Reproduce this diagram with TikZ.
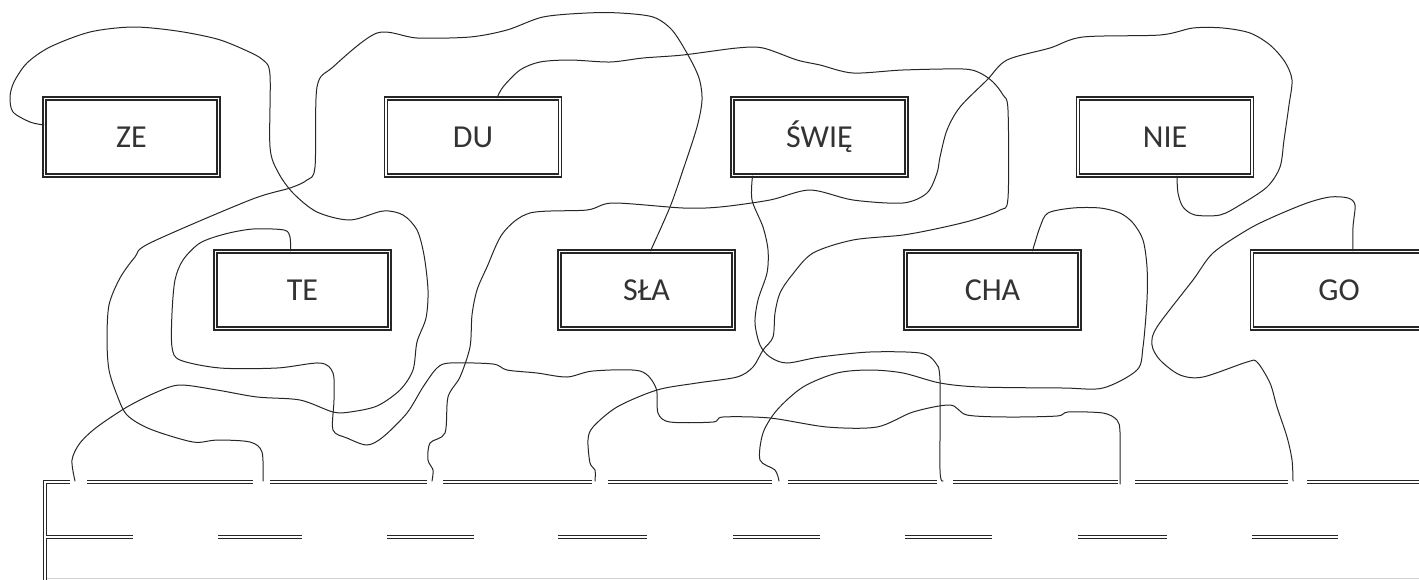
\documentclass[tikz,border=0pt]{standalone}
\usepackage{fontspec}
\setmainfont{Carlito}
\usepackage{tikz}
\newcommand{\figurescale}{1pt}

\begin{document}
\begin{tikzpicture}[x=\figurescale,y=-\figurescale,
	syllable/.style={draw=black!85, double, double distance=1.8pt, line width=1.2pt,
		minimum width=174pt, minimum height=77pt, inner sep=0pt,
		text=black!80, font=\fontsize{32}{36}\selectfont},
	wire/.style={black!85, line width=1pt, line join=round, line cap=round},
	road/.style={draw=black!85, double, double distance=1.4pt, line width=1.1pt}]
	\useasboundingbox (0,0) rectangle (1419,579);
	\clip (0,0) rectangle (1419,579);

	\node[syllable] (ZE) at (131.5,137) {ZE};
	\node[syllable] (DU) at (473,137) {DU};
	\node[syllable] (SWIE) at (819.5,137) {ŚWIĘ};
	\node[syllable] (NIE) at (1165,137) {NIE};
	\node[syllable] (TE) at (302.5,290) {TE};
	\node[syllable] (SLA) at (646.5,290) {SŁA};
	\node[syllable] (CHA) at (992.5,290) {CHA};
	\node[syllable] (GO) at (1339,290) {GO};

	\coordinate (g1) at (75,481);
	\coordinate (g2) at (263,481);
	\coordinate (g3) at (432,481);
	\coordinate (g4) at (595,481);
	\coordinate (g5) at (779,481);
	\coordinate (g6) at (943,481);
	\coordinate (g7) at (1120,484);
	\coordinate (g8) at (1293,481);

	% road
	\draw[road] (45,585) -- (45,482) -- (70,482);
	\foreach \a/\b in {87/253, 270/427, 443/592, 608/772, 788/937, 953/1118, 1135/1288, 1307/1425}
		\draw[road] (\a,482) -- (\b,482);
	\foreach \a/\b in {46/133, 218/302, 387/474, 558/647, 733/820, 905/992, 1078/1167, 1252/1338}
		\draw[road] (\a,537) -- (\b,537);
	\draw[gray!35, line width=1pt] (47,578) -- (1419,578);

	% wires
	\draw[wire] plot[smooth, tension=0.5] coordinates {([yshift=12pt]ZE.west) (30,122) (13,112) (10,97) (14,82) (27,63) (50,47) (90,32) (133,27) (177,31) (217,39) (245,50) (263,60) (270,75) (270,147) (278,172) (293,193) (317,212) (350,220) (383,211) (403,215) (417,230) (424,255) (428,290) (426,318) (417,342) (413,370) (400,390) (377,406) (350,412) (333,412) (300,400) (257,397) (217,390) (180,385) (157,392) (127,407) (97,427) (80,443) (72,460) (g1)};
	\draw[wire] plot[smooth, tension=0.5] coordinates {([xshift=-12pt]TE.north) (290,237) (284,230) (253,229) (225,234) (200,243) (183,260) (175,280) (172,313) (172,347) (180,360) (220,368) (277,368) (320,363) (333,373) (334,400) (333,430) (347,438) (367,445) (383,437) (407,413) (423,387) (437,368) (450,363) (493,364) (507,370) (537,373) (567,377) (593,371) (640,371) (656,388) (658,413) (670,422) (713,422) (723,417) (770,418) (827,427) (877,427) (913,412) (950,405) (967,415) (1007,417) (1057,416) (1068,412) (1103,413) (1117,420) (1120,432) (1120,470) (g7)};
	\draw[wire] plot[smooth, tension=0.5] coordinates {([xshift=24pt]DU.north) (503,87) (520,70) (540,62) (570,60) (610,62) (643,58) (683,55) (737,48) (763,48) (797,60) (820,65) (853,73) (903,70) (963,69) (980,73) (993,82) (1003,95) (1008,110) (1008,198) (1000,210) (973,220) (940,228) (903,235) (853,240) (813,253) (792,275) (780,293) (775,313) (773,337) (763,350) (753,367) (737,377) (697,383) (657,390) (617,407) (593,427) (588,440) (590,463) (595,470) (g4)};
	\draw[wire] plot[smooth, tension=0.5] coordinates {([xshift=4pt]SLA.north) (670,207) (683,170) (697,127) (702,100) (699,78) (688,55) (672,30) (653,17) (620,13) (587,13) (543,17) (507,30) (470,37) (417,38) (377,33) (333,67) (317,87) (315,167) (307,180) (290,188) (250,200) (150,243) (135,257) (120,278) (109,305) (107,340) (109,370) (117,395) (127,415) (150,429) (193,442) (217,440) (250,442) (262,452) (g2)};
	\draw[wire] plot[smooth, tension=0.5] coordinates {([xshift=-67pt]SWIE.south) (752,200) (763,227) (768,250) (767,273) (758,300) (755,323) (760,345) (770,357) (787,363) (820,357) (870,352) (920,353) (935,362) (940,380) (940,470) (g6)};
	\draw[wire] plot[smooth, tension=0.5] coordinates {([xshift=12pt]NIE.south) (1178,193) (1183,207) (1195,215) (1220,215) (1240,205) (1267,187) (1280,167) (1284,140) (1289,105) (1292,80) (1285,62) (1270,45) (1250,33) (1223,28) (1193,28) (1160,35) (1083,37) (1050,48) (1007,60) (987,80) (960,107) (947,130) (940,157) (937,173) (927,193) (903,203) (853,200) (810,190) (770,200) (720,207) (683,208) (613,203) (587,210) (530,213) (503,233) (487,267) (477,290) (472,315) (470,347) (460,377) (448,397) (445,433) (430,443) (428,460) (433,470) (g3)};
	\draw[wire] plot[smooth, tension=0.5] coordinates {([xshift=40pt]CHA.north) (1040,227) (1048,213) (1073,208) (1100,208) (1120,213) (1133,223) (1143,240) (1147,267) (1147,300) (1143,347) (1137,370) (1103,388) (1063,388) (980,387) (940,383) (903,373) (870,370) (837,373) (803,387) (777,410) (763,433) (760,460) (775,470) (g5)};
	\draw[wire] plot[smooth, tension=0.5] coordinates {([xshift=14pt]GO.north) (1353,227) (1355,205) (1348,198) (1330,197) (1307,203) (1273,217) (1247,230) (1213,253) (1193,280) (1157,327) (1152,345) (1160,360) (1180,375) (1203,377) (1247,362) (1257,362) (1270,383) (1277,407) (1287,437) (1292,460) (g8)};
\end{tikzpicture}
\end{document}
